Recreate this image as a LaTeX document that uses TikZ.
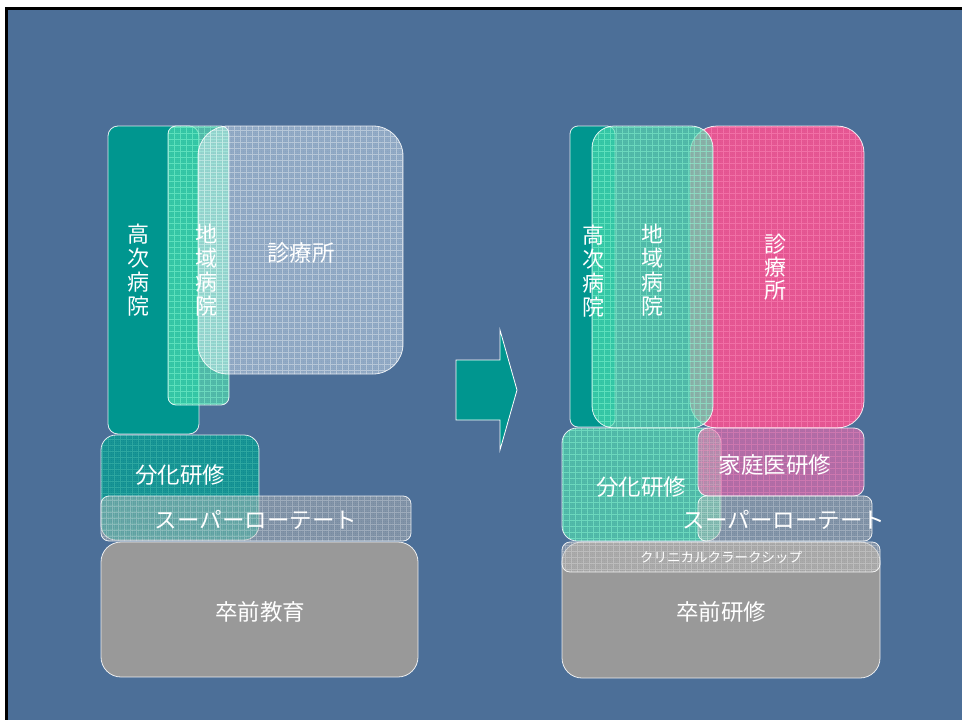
\documentclass[tikz,border=0pt]{standalone}
\usepackage{fontspec}
\newfontfamily\jp{Noto Sans CJK JP}
\definecolor{bgblue}{HTML}{4C6F98}
\definecolor{tealdark}{HTML}{00968F}
\definecolor{mint}{HTML}{4FE0B0}
\definecolor{mintline}{HTML}{8FFFD8}
\definecolor{pinkc}{HTML}{FF4F8F}
\definecolor{pinkline}{HTML}{FF8FBF}
\definecolor{famc}{HTML}{FF66B0}
\definecolor{grayc}{HTML}{999999}
\definecolor{lgray}{HTML}{B0B0B0}
\definecolor{paleblue}{HTML}{E8F4FF}
\newcommand\boxnode[6]{\node[#2, minimum width={#5-#3}, minimum height={#6-#4}] (#1) at ({(#3+#5)/2},{(#4+#6)/2}) {};}
\tikzset{
  basebox/.style={draw=white, draw opacity=0.85, line width=0.8pt, inner sep=0pt, outer sep=0pt, rectangle},
  gridop/.initial=0.35,
  gridded/.style={path picture={
      \draw[#1, draw opacity=\pgfkeysvalueof{/tikz/gridop}, line width=0.6pt, step=6pt]
        ([shift={(-2pt,-2pt)}]path picture bounding box.south west) grid ([shift={(2pt,2pt)}]path picture bounding box.north east);
      \draw[#1, draw opacity=0.07, line width=0.4pt, step=2pt]
        ([shift={(-2pt,-2pt)}]path picture bounding box.south west) grid ([shift={(2pt,2pt)}]path picture bounding box.north east);}},
  solidteal/.style={basebox, fill=tealdark},
  mintbox/.style={basebox, fill=mint, fill opacity=0.62, gridop=0.45, gridded=mintline},
  lightbox/.style={basebox, fill=paleblue, fill opacity=0.4, gridop=0.35, gridded=white},
  pinkbox/.style={basebox, fill=pinkc, fill opacity=0.85, gridop=0.45, gridded=pinkline},
  fambox/.style={basebox, fill=famc, fill opacity=0.55, gridop=0.35, gridded=pinkline},
  tealgrid/.style={basebox, fill=tealdark, fill opacity=0.78, gridop=0.18, gridded=mintline},
  superbox/.style={basebox, fill=lgray, fill opacity=0.45, gridop=0.22, gridded=white},
  graybox/.style={basebox, fill=grayc},
  clinbox/.style={basebox, fill=lgray, fill opacity=0.5, gridop=0.22, gridded=white},
  lbl/.style={text=white, align=center, inner sep=0pt, font=\jp\fontsize{22.5}{24}\selectfont},
  vlbl/.style={lbl, font=\jp\fontsize{22}{24}\selectfont},
  smalllbl/.style={text=white, inner sep=0pt, font=\jp\fontsize{13.5}{15}\selectfont},
  arrowshape/.style={fill=tealdark, draw=white, line width=0.8pt}
}
\begin{document}
\begin{tikzpicture}[x=1pt,y=-1pt]
\useasboundingbox (0,0) rectangle (962,720);
\fill[white] (0,0) rectangle (962,720);
\fill[bgblue] (6.5,8) rectangle (962,720);
\draw[black, line width=3pt] (6.5,720) -- (6.5,8) -- (962,8);

% ---------- left ----------
\boxnode{lkoji}{solidteal, rounded corners=10pt}{108}{126}{199}{434}
\boxnode{lchiiki}{mintbox, rounded corners=8pt}{168}{126}{229}{405}
\boxnode{lshin}{lightbox, rounded corners=30pt}{198}{126}{403}{374}
\boxnode{lbunka}{tealgrid, rounded corners=15pt}{101}{435}{259}{540}
\boxnode{lsuper}{superbox, rounded corners=8pt}{101}{496}{411}{541}
\boxnode{lsotsu}{graybox, rounded corners=20pt}{101}{542}{418}{677}

\node[vlbl] (tlkoji) at (138,270) {高\\次\\病\\院};
\node[vlbl] (tlchiiki) at (206,270) {地\\域\\病\\院};
\node[lbl] (tlshin) at (301,253) {診療所};
\node[lbl] (tlbunka) at (180,475) {分化研修};
\node[lbl] (tlsuper) at (256,520) {スーパーローテート};
\node[lbl] (tlsotsu) at (260,612) {卒前教育};

% ---------- arrow ----------
\draw[arrowshape] (456,360) -- (500,360) -- (500,330) -- (517,390) -- (500,450) -- (500,420) -- (456,420) -- cycle;

% ---------- right ----------
\boxnode{rkoji}{solidteal, rounded corners=8pt}{570}{126}{615}{427}
\boxnode{rshin}{pinkbox, rounded corners=27pt}{690}{126}{864}{428}
\boxnode{rchiiki}{mintbox, rounded corners=22pt}{592}{126}{713}{428}
\boxnode{rbunka}{mintbox, rounded corners=15pt}{562}{428}{721}{541}
\boxnode{rfam}{fambox, rounded corners=10pt}{698}{428}{864}{496}
\boxnode{rsuper}{superbox, rounded corners=8pt}{698}{496}{872}{541}
\boxnode{rsotsu}{graybox, rounded corners=20pt}{562}{542}{880}{678}
\boxnode{rclin}{clinbox, rounded corners=8pt}{562}{542}{880}{572}

\node[vlbl] (trkoji) at (593,271) {高\\次\\病\\院};
\node[vlbl] (trchiiki) at (652,270) {地\\域\\病\\院};
\node[vlbl, font=\jp\fontsize{22}{23}\selectfont] (trshin) at (775,267) {診\\療\\所};
\node[lbl] (trbunka) at (641,487) {分化研修};
\node[lbl] (trfam) at (775,465) {家庭医研修};
\node[lbl] (trsuper) at (784,520) {スーパーローテート};
\node[smalllbl] (trclin) at (721,557) {クリニカルクラークシップ};
\node[lbl] (trsotsu) at (721,612) {卒前研修};
\end{tikzpicture}
\end{document}
